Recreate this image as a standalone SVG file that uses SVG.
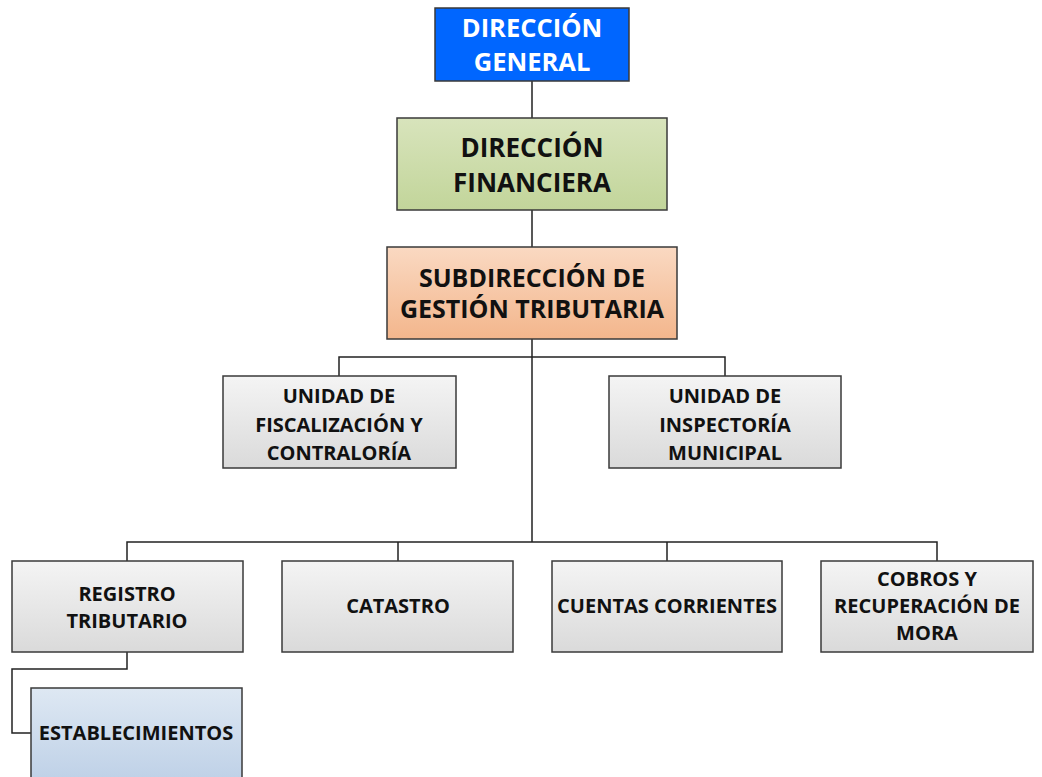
<svg xmlns="http://www.w3.org/2000/svg" width="1042" height="777" viewBox="0 0 1042 777">
<defs>
<linearGradient id="gGray" x1="0" y1="0" x2="0" y2="1"><stop offset="0" stop-color="#f4f4f4"/><stop offset="1" stop-color="#dadada"/></linearGradient>
<linearGradient id="gGreen" x1="0" y1="0" x2="0" y2="1"><stop offset="0" stop-color="#d8e4bc"/><stop offset="1" stop-color="#c2d59a"/></linearGradient>
<linearGradient id="gPeach" x1="0" y1="0" x2="0" y2="1"><stop offset="0" stop-color="#fad9c2"/><stop offset="1" stop-color="#f3b68c"/></linearGradient>
<linearGradient id="gBlue" x1="0" y1="0" x2="0" y2="1"><stop offset="0" stop-color="#dee8f3"/><stop offset="1" stop-color="#bccfe6"/></linearGradient>
<style>
.box{stroke:#3a3a3a;stroke-width:1.5}
.t{font-family:"Open Sans","Liberation Sans",sans-serif;font-weight:bold;text-anchor:middle;fill:#111}
.s{font-size:20px}
.w{fill:#fff}
.c{fill:none;stroke:#222;stroke-width:1.5}
</style>
</defs>
<g id="connectors">
<path class="c" d="M532 81V118M532 210V247M532 339V542"/>
<path class="c" d="M339 376V357H725V376"/>
<path class="c" d="M127 561V542H937V561M398 542V561M667 542V561"/>
<path class="c" d="M127 652V669H12V733H31"/>
</g>
<g id="n1"><rect class="box" x="435" y="8" width="194" height="73" fill="#0066ff"/><text class="t w" x="532" y="37" font-size="25.5">DIRECCIÓN</text><text class="t w" x="532" y="71" font-size="25.5">GENERAL</text></g>
<g id="n2"><rect class="box" x="397" y="118" width="270" height="92" fill="url(#gGreen)"/><text class="t" x="532" y="157" font-size="26">DIRECCIÓN</text><text class="t" x="532" y="192" font-size="26">FINANCIERA</text></g>
<g id="n3"><rect class="box" x="387" y="247" width="290" height="92" fill="url(#gPeach)"/><text class="t" x="532" y="287" font-size="25">SUBDIRECCIÓN DE</text><text class="t" x="532" y="318" font-size="25">GESTIÓN TRIBUTARIA</text></g>
<g id="n4"><rect class="box" x="223" y="376" width="233" height="92" fill="url(#gGray)"/><text class="t s" x="339" y="403">UNIDAD DE</text><text class="t s" x="339" y="432">FISCALIZACIÓN Y</text><text class="t s" x="339" y="460">CONTRALORÍA</text></g>
<g id="n5"><rect class="box" x="609" y="376" width="232" height="92" fill="url(#gGray)"/><text class="t s" x="725" y="403">UNIDAD DE</text><text class="t s" x="725" y="432">INSPECTORÍA</text><text class="t s" x="725" y="460">MUNICIPAL</text></g>
<g id="n6"><rect class="box" x="12" y="561" width="231" height="91" fill="url(#gGray)"/><text class="t s" x="127" y="601">REGISTRO</text><text class="t s" x="127" y="628">TRIBUTARIO</text></g>
<g id="n7"><rect class="box" x="282" y="561" width="231" height="91" fill="url(#gGray)"/><text class="t s" x="398" y="613">CATASTRO</text></g>
<g id="n8"><rect class="box" x="552" y="561" width="230" height="91" fill="url(#gGray)"/><text class="t s" x="667" y="613">CUENTAS CORRIENTES</text></g>
<g id="n9"><rect class="box" x="821" y="561" width="212" height="91" fill="url(#gGray)"/><text class="t s" x="927" y="586">COBROS Y</text><text class="t s" x="927" y="613">RECUPERACIÓN DE</text><text class="t s" x="927" y="640">MORA</text></g>
<g id="n10"><rect class="box" x="31" y="688" width="211" height="100" fill="url(#gBlue)"/><text class="t s" x="136" y="740">ESTABLECIMIENTOS</text></g>
</svg>
